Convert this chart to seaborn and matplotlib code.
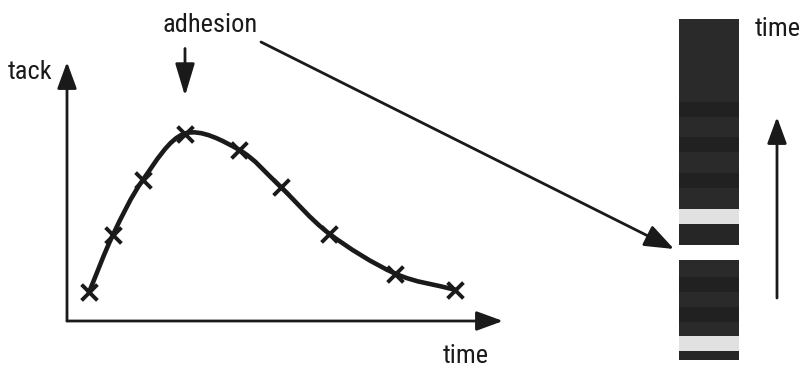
import numpy as np
import pandas as pd
import seaborn as sns
import matplotlib.pyplot as plt
from matplotlib.path import Path
from matplotlib.patches import PathPatch, FancyArrowPatch

sns.set_style("white")
plt.rcParams['font.family'] = ['Roboto Condensed', 'Liberation Sans Narrow',
                               'DejaVu Sans Condensed', 'Roboto', 'DejaVu Sans']

# tack curve samples (arbitrary units)
time_pts = [0.55, 1.15, 1.9, 2.95, 4.3, 5.35, 6.55, 8.2, 9.7]
tack_pts = [1.15, 3.45, 5.65, 7.5, 6.85, 5.35, 3.5, 1.9, 1.25]
peak_idx = 3

# image strip: grey level of each band (top to bottom) and its height
band_grey = [0.165, 0.13, 0.165, 0.13, 0.165, 0.13, 0.165, 0.88, 0.15,
             np.nan,
             0.165, 0.13, 0.165, 0.13, 0.165, 0.88, 0.15]
band_height = [83, 15, 20, 15, 21, 15, 21, 15, 21,
               15,
               17, 15, 15, 15, 14, 15, 9]

W, H = 807, 372
INK = "#1a1a1a"
FS = 19
fig = plt.figure(figsize=(W / 100, H / 100), dpi=100)

# ----- tack vs time -----
ax = fig.add_axes([67 / W, (H - 321) / H, (503 - 67) / W, (321 - 62) / H])
ax.set_xlim(0, 10.9)
ax.set_ylim(0, 10.36)
ax.axis("off")

df = pd.DataFrame({"time": time_pts, "tack": tack_pts})

# smooth curve through the points (Catmull-Rom -> cubic bezier)
p = df[["time", "tack"]].to_numpy()
ext = np.vstack([2 * p[0] - p[1], p, 2 * p[-1] - p[-2]])
verts = [tuple(p[0])]
codes = [Path.MOVETO]
for i in range(1, len(ext) - 2):
    c1 = ext[i] + (ext[i + 1] - ext[i - 1]) / 6
    c2 = ext[i + 1] - (ext[i + 2] - ext[i]) / 6
    verts += [tuple(c1), tuple(c2), tuple(ext[i + 1])]
    codes += [Path.CURVE4] * 3
ax.add_patch(PathPatch(Path(verts, codes), fill=False, lw=3.3, color=INK,
                       capstyle="round"))

sns.scatterplot(data=df, x="time", y="tack", marker="x", s=130, color=INK,
                linewidth=2.8, ax=ax, zorder=5, clip_on=False)

arrow_kw = dict(arrowstyle="-|>,head_length=0.9,head_width=0.33", color=INK,
                lw=2, mutation_scale=18, shrinkA=0, shrinkB=0)
ax.annotate("", xy=(10.9, 0), xytext=(0, 0), arrowprops=arrow_kw,
            annotation_clip=False)
ax.annotate("", xy=(0, 10.36), xytext=(0, 0), arrowprops=arrow_kw,
            annotation_clip=False)

fig.text(8 / W, 1 - 72 / H, "tack", fontsize=FS, ha="left", va="center",
         color=INK)
fig.text(443 / W, 1 - 356 / H, "time", fontsize=FS, ha="left", va="center",
         color=INK)

# adhesion pointer
ax.annotate("", xy=(time_pts[peak_idx], tack_pts[peak_idx]), xytext=(0, 85),
            textcoords="offset pixels",
            arrowprops=dict(arrowstyle="-|>,head_length=1.1,head_width=0.33",
                            color=INK, lw=2, mutation_scale=18,
                            shrinkA=0, shrinkB=27),
            annotation_clip=False)
fig.text(163 / W, 1 - 25 / H, "adhesion", fontsize=FS, ha="left", va="center",
         color=INK)

# ----- image strip -----
sax = fig.add_axes([679 / W, (H - 360) / H, 60 / W, 341 / H])
strip = np.repeat(np.array(band_grey), band_height)[:, None]
sns.heatmap(strip, cmap="gray", vmin=0, vmax=1, cbar=False, ax=sax,
            xticklabels=False, yticklabels=False)
sax.axis("off")

fig.text(755 / W, 1 - 29 / H, "time", fontsize=FS, ha="left", va="center",
         color=INK)
fig.add_artist(FancyArrowPatch(
    (777, H - 298), (777, H - 117), transform=None,
    arrowstyle="-|>,head_length=0.9,head_width=0.33", color=INK, lw=2,
    mutation_scale=18, shrinkA=0, shrinkB=0))

# line from the adhesion label to the strip
fig.add_artist(FancyArrowPatch(
    (261, H - 42), (674, H - 249), transform=None,
    arrowstyle="-|>,head_length=1.0,head_width=0.38", color=INK, lw=2,
    mutation_scale=18, shrinkA=0, shrinkB=0))

fig.savefig("out.png", dpi=100)
